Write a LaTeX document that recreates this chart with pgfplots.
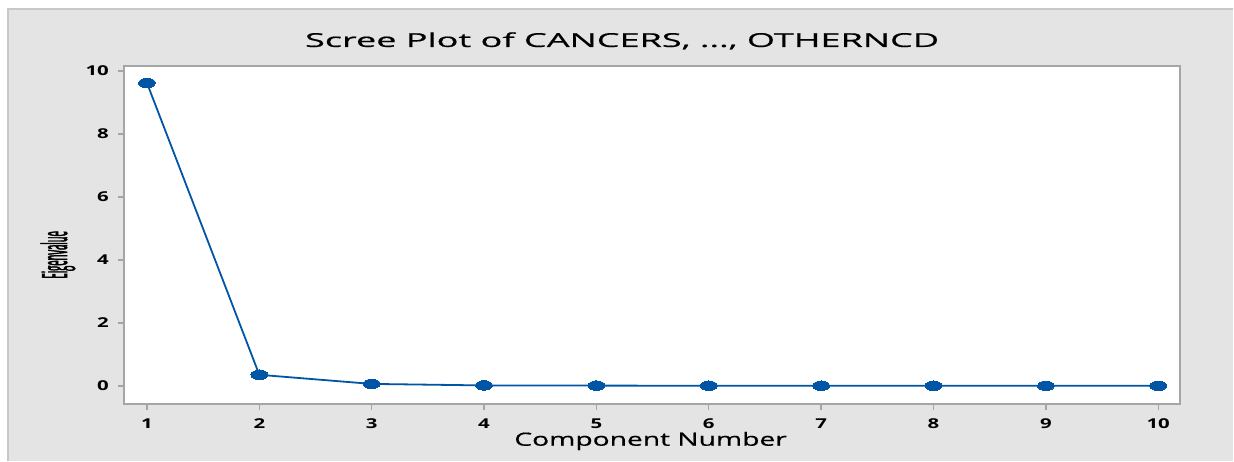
\documentclass[border=0pt]{standalone}
\usepackage{fontspec}
\setmainfont[FakeStretch=1.5]{Open Sans}
\newfontfamily\ylabfont[FakeStretch=0.27, FakeBold=1.2]{Open Sans}
\newfontfamily\titlefont[FakeStretch=1.88, FakeBold=0.6]{Open Sans}
\newfontfamily\xlabfont[FakeStretch=1.55, FakeBold=0.6]{Open Sans}
\usepackage{pgfplots}
\pgfplotsset{compat=1.18}
\definecolor{bgray}{RGB}{228,228,228}
\definecolor{bordergray}{RGB}{200,200,200}
\definecolor{axgray}{RGB}{165,165,165}
\definecolor{lineblue}{RGB}{0,85,165}
\begin{document}
\begin{tikzpicture}
\fill[white] (0pt,0pt) rectangle (617pt,230.5pt);
\fill[bgray] (4pt,0pt) rectangle (617pt,226pt);
\draw[bordergray, line width=0.8pt] (4pt,0pt) -- (4pt,226pt) -- (617pt,226pt);
\begin{axis}[
  at={(62pt,28.5pt)}, anchor=south west,
  width=528.5pt, height=169pt, scale only axis,
  xmin=0.795, xmax=10.196, ymin=-0.57, ymax=10.16,
  xtick={1,...,10}, ytick={0,2,4,6,8,10},
  axis background/.style={fill=white},
  axis line style={draw=axgray, line width=1pt},
  tick align=outside, tick pos=left,
  major tick length=3pt,
  every tick/.style={draw=axgray, line width=0.7pt},
  /pgf/number format/assume math mode=true,
  tick label style={font=\fontsize{6.8}{7}\selectfont\bfseries, text=black},
  xticklabel style={yshift=-1pt},
  yticklabel style={xshift=-1pt},
  clip=false,
]
\addplot[color=lineblue, line width=0.9pt, mark=*, mark size=2.4pt,
  mark options={xscale=1.75, fill=lineblue, draw=lineblue, line width=0pt}]
  coordinates {(1,9.62) (2,0.35) (3,0.06) (4,0.012) (5,0.006) (6,0.003) (7,0.002) (8,0.001) (9,0) (10,0)};
\end{axis}
\node[anchor=base, font=\fontsize{9.6}{11}\selectfont\titlefont] at (311.25pt,207pt) {Scree Plot of CANCERS, ..., OTHERNCD};
\node[anchor=base, font=\fontsize{9.1}{11}\selectfont\xlabfont] at (325.5pt,7.5pt) {Component Number};
\node[rotate=90, anchor=center, font=\ylabfont\fontsize{17.5}{19}\selectfont] at (29pt,103pt) {Eigenvalue};
\end{tikzpicture}
\end{document}
